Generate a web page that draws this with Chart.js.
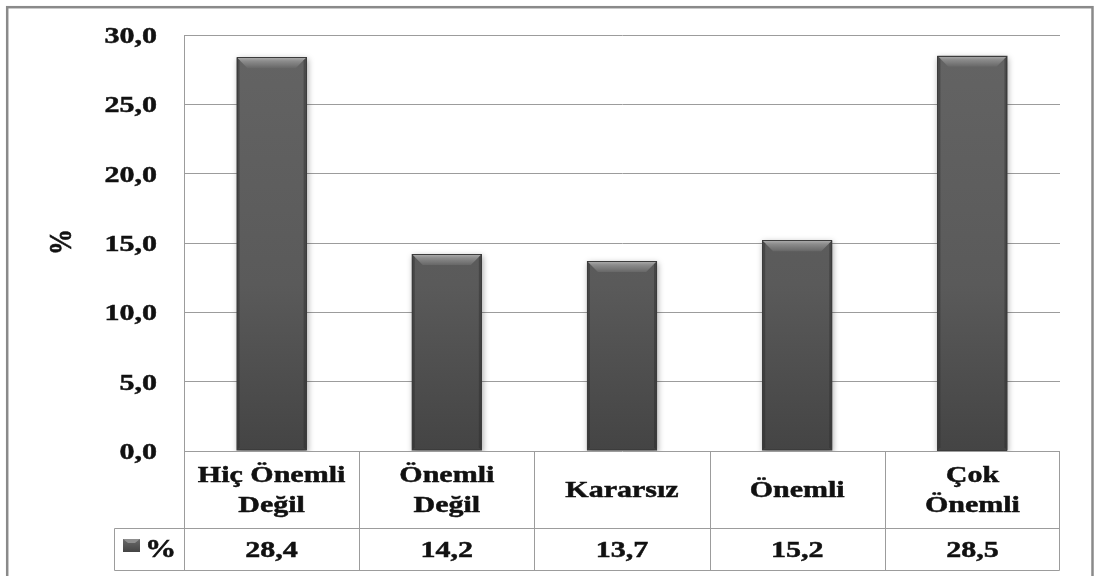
<!DOCTYPE html>
<html>
<head>
<meta charset="utf-8">
<script src="https://cdn.jsdelivr.net/npm/chart.js@4/dist/chart.umd.min.js"></script>
<style>
  html, body { margin: 0; padding: 0; background: #fff; }
  #wrap { width: 1097px; height: 576px; position: relative; }
</style>
</head>
<body>
<div id="wrap"><canvas id="c" width="1097" height="576"></canvas></div>
<script>
// Response categories (multi-line labels for the data table)
const categories = [
  ['Hiç Önemli', 'Değil'],
  ['Önemli', 'Değil'],
  ['Kararsız'],
  ['Önemli'],
  ['Çok', 'Önemli']
];
// Share of responses, percent
const values = [28.4, 14.2, 13.7, 15.2, 28.5];
const seriesName = '%';
const axisTitle = '%';
const yMin = 0, yMax = 30, yStep = 5;

const FONT = '"Liberation Serif", "Times New Roman", serif';
const HSCALE = 1.25;   // wide lettering used for all chart text
const GRID = '#9c9c9c';

function fmt(v) { return v.toFixed(1).replace('.', ','); }

function wideText(ctx, text, x, y, size, align) {
  ctx.save();
  ctx.font = 'bold ' + size + 'px ' + FONT;
  ctx.fillStyle = '#111';
  ctx.strokeStyle = '#111';
  ctx.lineWidth = 0.5;
  ctx.textAlign = align || 'center';
  ctx.textBaseline = 'alphabetic';
  ctx.translate(x, y);
  ctx.scale(HSCALE, 1);
  ctx.fillText(text, 0, 0);
  ctx.strokeText(text, 0, 0);
  ctx.restore();
}

// Soft drop shadow under the bars
const shadowPlugin = {
  id: 'barShadow',
  beforeDatasetsDraw(chart) {
    const ctx = chart.ctx;
    ctx.save();
    ctx.shadowColor = 'rgba(0,0,0,0.35)';
    ctx.shadowBlur = 6;
    ctx.shadowOffsetX = 1;
    ctx.shadowOffsetY = 2;
  },
  afterDatasetsDraw(chart) {
    chart.ctx.restore();
  }
};

// Bevelled top edge and outline on every bar
function drawBevel(ctx, x, top, w, base) {
  const l = x - w / 2, r = x + w / 2, b = 11;
  ctx.save();
  // top bevel
  let g = ctx.createLinearGradient(0, top, 0, top + b);
  g.addColorStop(0, '#b0b0b0');
  g.addColorStop(0.35, '#8c8c8c');
  g.addColorStop(1, '#676767');
  ctx.fillStyle = g;
  ctx.beginPath();
  ctx.moveTo(l, top); ctx.lineTo(r, top);
  ctx.lineTo(r - b, top + b); ctx.lineTo(l + b, top + b);
  ctx.closePath(); ctx.fill();
  // side edges
  ctx.fillStyle = 'rgba(40,40,40,0.4)';
  ctx.beginPath();
  ctx.moveTo(l, top); ctx.lineTo(l + 3, top + 3); ctx.lineTo(l + 3, base - 3); ctx.lineTo(l, base);
  ctx.closePath(); ctx.fill();
  ctx.beginPath();
  ctx.moveTo(r, top); ctx.lineTo(r - 3, top + 3); ctx.lineTo(r - 3, base - 3); ctx.lineTo(r, base);
  ctx.closePath(); ctx.fill();
  // outline
  ctx.strokeStyle = '#3c3c3c';
  ctx.lineWidth = 1;
  ctx.strokeRect(Math.round(l) + 0.5, Math.round(top) + 0.5, Math.round(w) - 1, Math.round(base - top) - 1);
  ctx.restore();
}

const bevelPlugin = {
  id: 'bevel',
  afterDatasetsDraw(chart) {
    const ctx = chart.ctx;
    chart.getDatasetMeta(0).data.forEach(bar => {
      const p = bar.getProps(['x', 'y', 'base', 'width'], true);
      drawBevel(ctx, p.x, p.y, p.width, p.base);
    });
  }
};

// Axis labels, data table and outer frame
const tablePlugin = {
  id: 'dataTable',
  afterDraw(chart) {
    const ctx = chart.ctx;
    const area = chart.chartArea;
    const xs = chart.scales.x, ys = chart.scales.y;
    const n = categories.length;
    const colW = (area.right - area.left) / n;
    const row1Top = Math.round(area.bottom);
    const row1Bot = row1Top + 77;
    const row2Bot = row1Bot + 42;
    const legendLeft = 114;

    // y tick labels
    ys.ticks.forEach(t => {
      const py = ys.getPixelForValue(t.value);
      wideText(ctx, fmt(t.value), 157, py + 8, 24, 'right');
    });

    // y axis title
    ctx.save();
    ctx.font = 'bold 26px ' + FONT;
    ctx.fillStyle = '#111';
    ctx.strokeStyle = '#111';
    ctx.lineWidth = 0.5;
    ctx.textAlign = 'center';
    ctx.textBaseline = 'middle';
    ctx.translate(63, 242);
    ctx.scale(HSCALE, 1);
    ctx.rotate(-Math.PI / 2);
    ctx.fillText(axisTitle, 0, 0);
    ctx.strokeText(axisTitle, 0, 0);
    ctx.restore();

    // table grid
    ctx.save();
    ctx.strokeStyle = GRID;
    ctx.lineWidth = 1;
    ctx.beginPath();
    const R = Math.round(area.right) - 0.5;
    ctx.moveTo(legendLeft + 0.5, row1Bot + 0.5); ctx.lineTo(R, row1Bot + 0.5);
    ctx.moveTo(legendLeft + 0.5, row2Bot + 0.5); ctx.lineTo(R, row2Bot + 0.5);
    ctx.moveTo(legendLeft + 0.5, row1Bot + 0.5); ctx.lineTo(legendLeft + 0.5, row2Bot + 0.5);
    for (let i = 0; i <= n; i++) {
      const cx = Math.round(area.left + i * colW) + (i === n ? -0.5 : 0.5);
      ctx.moveTo(cx, row1Top); ctx.lineTo(cx, row2Bot + 0.5);
    }
    ctx.stroke();
    ctx.restore();

    // category labels and values
    categories.forEach((lines, i) => {
      const cx = xs.getPixelForValue(i);
      if (lines.length === 2) {
        wideText(ctx, lines[0], cx, row1Top + 31, 24);
        wideText(ctx, lines[1], cx, row1Top + 61, 24);
      } else {
        wideText(ctx, lines[0], cx, row1Top + 46, 24);
      }
      wideText(ctx, fmt(values[i]), cx, row2Bot - 13, 24);
    });

    // legend key
    ctx.save();
    const g = ctx.createLinearGradient(0, 539, 0, 552);
    g.addColorStop(0, '#6a6a6a');
    g.addColorStop(1, '#444444');
    ctx.fillStyle = g;
    ctx.fillRect(123, 539, 17, 13);
    ctx.fillStyle = '#8e8e8e';
    ctx.beginPath();
    ctx.moveTo(123, 539); ctx.lineTo(140, 539); ctx.lineTo(135, 543); ctx.lineTo(128, 543);
    ctx.closePath(); ctx.fill();
    ctx.restore();
    wideText(ctx, seriesName, 145, row2Bot - 13, 25, 'left');

    // outer frame
    ctx.save();
    ctx.strokeStyle = '#8a8a8a';
    ctx.lineWidth = 2.5;
    ctx.strokeRect(7.2, 7.2, 1085.3, 600);
    ctx.restore();
  }
};

new Chart(document.getElementById('c'), {
  type: 'bar',
  data: {
    labels: categories.map(c => c.join(' ')),
    datasets: [{
      label: seriesName,
      data: values,
      backgroundColor(context) {
        const area = context.chart.chartArea;
        if (!area) return '#5a5a5a';
        const g = context.chart.ctx.createLinearGradient(0, area.top, 0, area.bottom);
        g.addColorStop(0, '#646464');
        g.addColorStop(0.6, '#5a5a5a');
        g.addColorStop(1, '#444444');
        return g;
      },
      borderWidth: 0,
      barPercentage: 0.4,
      categoryPercentage: 1.0
    }]
  },
  options: {
    responsive: false,
    animation: false,
    layout: { padding: { left: 184, right: 37, top: 35, bottom: 125 } },
    plugins: { legend: { display: false }, tooltip: { enabled: false } },
    scales: {
      x: { display: false },
      y: {
        min: yMin, max: yMax,
        ticks: { stepSize: yStep, display: false },
        grid: { color: GRID, lineWidth: 1, drawTicks: false },
        border: { display: true, color: GRID, width: 1 }
      }
    }
  },
  plugins: [shadowPlugin, bevelPlugin, tablePlugin]
});
</script>
</body>
</html>
